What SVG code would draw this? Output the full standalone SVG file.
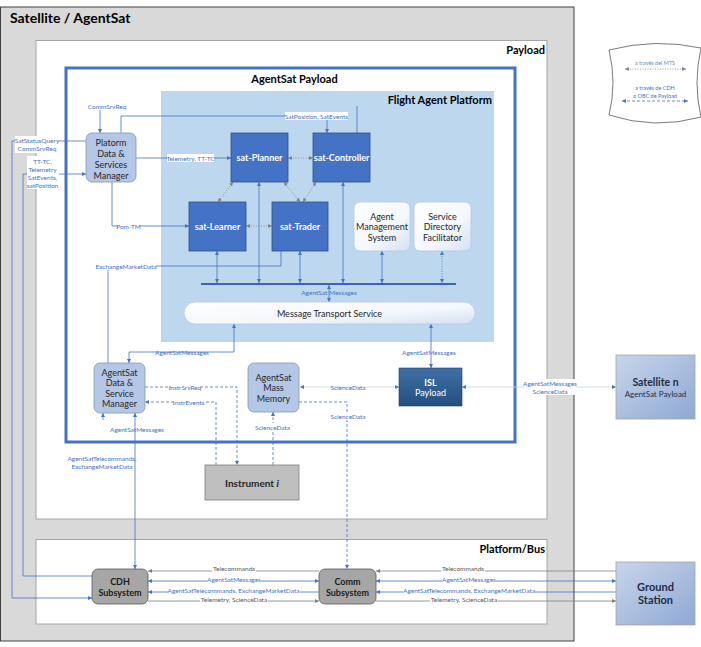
<svg xmlns="http://www.w3.org/2000/svg" width="701" height="647" viewBox="0 0 701 647">
<defs>
<style>
.t{font-family:Lato,"Liberation Sans",sans-serif;dominant-baseline:central;text-anchor:middle}
.ttl{font-weight:bold;fill:#000}
.lbl{font-size:6.5px;fill:#4472c4}
.lblg{font-size:6.5px;fill:#595959}
.nd{font-size:9px;fill:#262626}
.ag{font-size:9px;font-weight:bold;fill:#fff}
.bg{fill:#fff}
.cb{fill:none;stroke:#4472c4;stroke-width:0.8}
.cg{fill:none;stroke:#808080;stroke-width:0.8}
.cf{fill:none;stroke:#c9d5ea;stroke-width:0.8}
.dsh{stroke-dasharray:3 2}
.dot{stroke-dasharray:1 1.5}
.agent{fill:#4472c4;stroke:#2f528f;stroke-width:0.8}
.lblue{fill:#b4c7e7;stroke:#8497b0;stroke-width:0.8}
.gray{fill:#a6a6a6;stroke:#595959;stroke-width:0.8}
</style>
<marker id="ab" viewBox="0 0 6 6" refX="6" refY="3" markerWidth="4" markerHeight="4" orient="auto-start-reverse" markerUnits="userSpaceOnUse"><path d="M0,0 L6,3 L0,6 z" fill="#4472c4"/></marker>
<marker id="ag" viewBox="0 0 6 6" refX="6" refY="3" markerWidth="4" markerHeight="4" orient="auto-start-reverse" markerUnits="userSpaceOnUse"><path d="M0,0 L6,3 L0,6 z" fill="#808080"/></marker>
<linearGradient id="gw" x1="0" y1="0" x2="1" y2="1"><stop offset="0" stop-color="#ffffff"/><stop offset="0.6" stop-color="#f4f7fc"/><stop offset="1" stop-color="#d5e0f1"/></linearGradient>
<linearGradient id="gisl" x1="0" y1="0" x2="0" y2="1"><stop offset="0" stop-color="#3f70a6"/><stop offset="1" stop-color="#234f7d"/></linearGradient>
<linearGradient id="gext" x1="0" y1="0" x2="1" y2="1"><stop offset="0" stop-color="#c7d5ea"/><stop offset="1" stop-color="#8fa9d4"/></linearGradient>
</defs>

<!-- containers -->
<g id="satellite">
<rect x="0.5" y="7" width="573.5" height="634" fill="#d9d9d9" stroke="#404040" stroke-width="1"/>
<text class="t ttl" x="10" y="17" style="font-size:14px;text-anchor:start">Satellite / AgentSat</text>
</g>
<g id="payload">
<rect x="36" y="40.5" width="511" height="478.5" fill="#fff" stroke="#a6a6a6" stroke-width="1"/>
<text class="t ttl" x="545" y="49" style="font-size:11px;text-anchor:end">Payload</text>
</g>
<g id="agentsat-payload">
<rect x="66" y="68" width="449" height="374" fill="#fff" stroke="#4472c4" stroke-width="3"/>
<text class="t ttl" x="294.5" y="78" style="font-size:11px">AgentSat Payload</text>
</g>
<g id="flight-agent-platform">
<rect x="161" y="91" width="333" height="251" fill="#bdd7ee"/>
<text class="t ttl" x="492" y="99.5" style="font-size:11px;text-anchor:end">Flight Agent Platform</text>
</g>
<g id="platform-bus">
<rect x="36" y="539.5" width="511" height="84.5" fill="#fff" stroke="#a6a6a6" stroke-width="1"/>
<text class="t ttl" x="545" y="548" style="font-size:11px;text-anchor:end">Platform/Bus</text>
</g>

<!-- connectors -->
<g id="connectors">
<path class="cb" d="M100,110 V133" marker-end="url(#ab)"/>
<path class="cb" d="M121,133 V116 H327 V133" marker-end="url(#ab)"/>
<path class="cb" d="M357,106 V133"/>
<path class="cb" d="M136,158 H231" marker-end="url(#ab)"/>
<path class="cb" d="M112,182 V226 H189" marker-end="url(#ab)"/>
<path class="cb" d="M108,363 V266 H281 V251"/>
<path d="M201,284 H456" fill="none" stroke="#3c64b0" stroke-width="2"/>
<path class="cb" d="M217,251 V283" marker-start="url(#ab)" marker-end="url(#ab)"/>
<path class="cb" d="M259,182 V283" marker-start="url(#ab)" marker-end="url(#ab)"/>
<path class="cb" d="M300,251 V283" marker-start="url(#ab)" marker-end="url(#ab)"/>
<path class="cb" d="M343,182 V283" marker-start="url(#ab)" marker-end="url(#ab)"/>
<path class="cb" d="M382,251 V283" marker-start="url(#ab)" marker-end="url(#ab)"/>
<path class="cb dot" d="M442,251 V283" marker-start="url(#ab)" marker-end="url(#ab)"/>
<path class="cb" d="M329,285 V302" marker-start="url(#ab)" marker-end="url(#ab)"/>
<path class="cb" d="M129,363 V352 H234 V324" marker-start="url(#ab)" marker-end="url(#ab)"/>
<path class="cb" d="M431,368 V324" marker-start="url(#ab)" marker-end="url(#ab)"/>
<path class="cb" d="M135,413 V569" marker-start="url(#ab)" marker-end="url(#ab)"/>
<path class="cb" d="M103,420 V413" marker-end="url(#ab)"/>
<path class="cb" d="M86,141 H12 V598 H92" marker-end="url(#ab)"/>
<path class="cb" d="M92,576 H23 V174 H86" marker-end="url(#ab)"/>
<!-- dotted agent links -->
<path class="cg dot" d="M288,158 H313" marker-start="url(#ag)" marker-end="url(#ag)"/>
<path class="cg dot" d="M246,226 H272" marker-start="url(#ag)" marker-end="url(#ag)"/>
<path class="cg dot" d="M233,182 L218,202" marker-start="url(#ag)" marker-end="url(#ag)"/>
<path class="cg dot" d="M284,182 L300,202" marker-start="url(#ag)" marker-end="url(#ag)"/>
<path class="cg dot" d="M316,182 L303,202" marker-start="url(#ag)" marker-end="url(#ag)"/>
<!-- dashed -->
<path class="cb dsh" d="M145,387 H237 V465" marker-end="url(#ab)"/>
<path class="cb dsh" d="M216,465 V402 H145" marker-end="url(#ab)"/>
<path class="cb dsh" d="M273,465 V412" marker-end="url(#ab)"/>
<path class="cb dsh" d="M299,402 H347 V569" marker-end="url(#ab)"/>
<path class="cf" d="M300,387 H399" marker-start="url(#ab)" marker-end="url(#ab)"/>
<path class="cf" d="M462,387 H616" marker-start="url(#ab)" marker-end="url(#ab)"/>
<!-- platform bus -->
<path class="cg" d="M319,571 H148" marker-end="url(#ag)"/>
<path class="cb" d="M148,581 H319" marker-start="url(#ab)" marker-end="url(#ab)"/>
<path class="cb" d="M319,592 H148" marker-end="url(#ab)"/>
<path class="cg" d="M148,601 H319" marker-end="url(#ag)"/>
<path class="cg" d="M616,571 H376" marker-end="url(#ag)"/>
<path class="cb" d="M376,581 H616" marker-start="url(#ab)" marker-end="url(#ab)"/>
<path class="cb" d="M616,592 H376" marker-end="url(#ab)"/>
<path class="cg" d="M376,601 H616" marker-end="url(#ag)"/>

<!-- labels -->
<text class="t lbl" x="107" y="106">CommSrvReq</text>
<rect class="bg" x="285" y="112" width="63" height="8"/>
<text class="t lbl" x="316.5" y="116">SatPosition, SatEvents</text>
<rect class="bg" x="167" y="154" width="47" height="8"/>
<text class="t lbl" x="190.5" y="158">Telemetry, TT-TC</text>
<rect class="bg" x="118" y="222" width="21" height="8"/>
<text class="t lbl" x="128.5" y="226">Pom-TM</text>
<rect class="bg" x="96" y="262" width="60" height="8"/>
<text class="t lbl" x="126" y="266">ExchangeMarketData</text>
<text class="t lbl" x="329" y="292">AgentSat Messages</text>
<text class="t lbl" x="182" y="352">AgentSatMessages</text>
<text class="t lbl" x="429" y="352">AgentSatMessages</text>
<rect class="bg" x="171" y="383" width="28" height="8"/>
<text class="t lbl" x="185" y="387">InstrSrvReq</text>
<rect class="bg" x="173" y="398" width="31" height="8"/>
<text class="t lbl" x="188.5" y="402">InstrEvents</text>
<text class="t lbl" x="348" y="387">ScienceData</text>
<rect class="bg" x="330" y="412" width="36" height="8"/>
<text class="t lbl" x="348" y="416">ScienceData</text>
<rect class="bg" x="254" y="423" width="37" height="8"/>
<text class="t lbl" x="272.5" y="427">ScienceData</text>
<text class="t lbl" x="137" y="429">AgentSatMessages</text>
<text class="t lbl" x="102" y="458">AgentSatTelecommands,</text>
<text class="t lbl" x="102" y="466">ExchangeMarketData</text>
<rect class="bg" x="524" y="379" width="52" height="16"/>
<text class="t lbl" x="550" y="383.5">AgentSatMessages</text>
<text class="t lbl" x="550" y="391">ScienceData</text>
<rect class="bg" x="15" y="136" width="44" height="17"/>
<text class="t lbl" x="37" y="140.5">SatStatusQuery</text>
<text class="t lbl" x="37" y="148.5">CommSrvReq</text>
<rect class="bg" x="27" y="156" width="32" height="33"/>
<text class="t lbl" x="42.5" y="161">TT-TC,</text>
<text class="t lbl" x="42.5" y="169">Telemetry</text>
<text class="t lbl" x="42.5" y="177">SatEvents,</text>
<text class="t lbl" x="42.5" y="185">satPosition</text>
<rect class="bg" x="212" y="565" width="44" height="7"/>
<text class="t lblg" x="234" y="568.5">Telecommands</text>
<rect class="bg" x="207" y="576" width="54" height="7"/>
<text class="t lbl" x="234" y="579">AgentSatMessages</text>
<rect class="bg" x="168" y="587" width="132" height="7"/>
<text class="t lbl" x="233.5" y="590">AgentSatTelecommands, ExchangeMarketData</text>
<rect class="bg" x="200" y="596" width="68" height="7"/>
<text class="t lblg" x="234" y="599">Telemetry, ScienceData</text>
<rect class="bg" x="441" y="565" width="44" height="7"/>
<text class="t lblg" x="463" y="568.5">Telecommands</text>
<rect class="bg" x="442" y="576" width="54" height="7"/>
<text class="t lbl" x="469" y="579">AgentSatMessages</text>
<rect class="bg" x="403" y="587" width="132" height="7"/>
<text class="t lbl" x="469" y="590">AgentSatTelecommands, ExchangeMarketData</text>
<rect class="bg" x="430" y="596" width="68" height="7"/>
<text class="t lblg" x="464" y="599">Telemetry, ScienceData</text>
</g>

<!-- nodes -->
<g id="pdsm">
<rect class="lblue" x="86" y="133" width="50" height="49" rx="6"/>
<text class="t nd" x="111" y="142">Platorm</text>
<text class="t nd" x="111" y="153">Data &amp;</text>
<text class="t nd" x="111" y="164">Services</text>
<text class="t nd" x="111" y="175">Manager</text>
</g>
<g id="sat-planner">
<rect class="agent" x="231" y="133" width="57" height="49"/>
<text class="t ag" x="259.5" y="157.5">sat-Planner</text>
</g>
<g id="sat-controller">
<rect class="agent" x="313" y="133" width="57" height="49"/>
<text class="t ag" x="341.5" y="157.5">sat-Controller</text>
</g>
<g id="sat-learner">
<rect class="agent" x="189" y="202" width="57" height="49"/>
<text class="t ag" x="217.5" y="226.5">sat-Learner</text>
</g>
<g id="sat-trader">
<rect class="agent" x="272" y="202" width="56" height="49"/>
<text class="t ag" x="300" y="226.5">sat-Trader</text>
</g>
<g id="ams">
<rect x="354" y="202" width="56" height="49" rx="6" fill="url(#gw)" stroke="#b4c7e7" stroke-width="0.8"/>
<text class="t nd" x="382" y="216">Agent</text>
<text class="t nd" x="382" y="226.5">Management</text>
<text class="t nd" x="382" y="237">System</text>
</g>
<g id="sdf">
<rect x="414" y="202" width="57" height="49" rx="6" fill="url(#gw)" stroke="#b4c7e7" stroke-width="0.8"/>
<text class="t nd" x="442.5" y="216">Service</text>
<text class="t nd" x="442.5" y="226.5">Directory</text>
<text class="t nd" x="442.5" y="237">Facilitator</text>
</g>
<g id="mts">
<rect x="184" y="302" width="291" height="22" rx="11" fill="url(#gw)" stroke="#b4c7e7" stroke-width="0.8"/>
<text class="t nd" x="329.5" y="313">Message Transport Service</text>
</g>
<g id="asdsm">
<rect class="lblue" x="94" y="363" width="51" height="50" rx="6"/>
<text class="t nd" x="119.5" y="372">AgentSat</text>
<text class="t nd" x="119.5" y="382.5">Data &amp;</text>
<text class="t nd" x="119.5" y="393">Service</text>
<text class="t nd" x="119.5" y="403.5">Manager</text>
</g>
<g id="mass-memory">
<rect class="lblue" x="248" y="363" width="51" height="49" rx="6"/>
<text class="t nd" x="273.5" y="377">AgentSat</text>
<text class="t nd" x="273.5" y="387.5">Mass</text>
<text class="t nd" x="273.5" y="398">Memory</text>
</g>
<g id="isl-payload">
<rect x="399" y="368" width="63" height="38" fill="url(#gisl)" stroke="#1f3f66" stroke-width="0.6"/>
<text class="t" x="430.5" y="382" style="font-size:9px;font-weight:bold;fill:#fff">ISL</text>
<text class="t" x="430.5" y="392.5" style="font-size:9px;fill:#fff">Payload</text>
</g>
<g id="instrument">
<rect x="205" y="465" width="94" height="35" fill="#bfbfbf" stroke="#7f7f7f" stroke-width="0.8"/>
<text class="t" x="252" y="482.5" style="font-size:10px;font-weight:bold;fill:#262626">Instrument <tspan font-style="italic">i</tspan></text>
</g>
<g id="cdh">
<rect class="gray" x="92" y="569" width="56" height="35" rx="6"/>
<text class="t" x="120" y="581.5" style="font-size:9px;font-weight:bold;fill:#1a1a1a">CDH</text>
<text class="t" x="120" y="592" style="font-size:9px;font-weight:bold;fill:#1a1a1a">Subsystem</text>
</g>
<g id="comm">
<rect class="gray" x="319" y="569" width="57" height="35" rx="6"/>
<text class="t" x="347.5" y="581.5" style="font-size:9px;font-weight:bold;fill:#1a1a1a">Comm</text>
<text class="t" x="347.5" y="592" style="font-size:9px;font-weight:bold;fill:#1a1a1a">Subsystem</text>
</g>
<g id="satellite-n">
<rect x="616" y="355" width="79" height="64" fill="url(#gext)" stroke="#a6a6a6" stroke-width="0.8"/>
<text class="t" x="655.5" y="382" style="font-size:10.5px;font-weight:bold;fill:#1f2d44">Satellite n</text>
<text class="t" x="655.5" y="393.5" style="font-size:8px;fill:#1f2d44">AgentSat Payload</text>
</g>
<g id="ground-station">
<rect x="616" y="562" width="79" height="63" fill="url(#gext)" stroke="#a6a6a6" stroke-width="0.8"/>
<text class="t" x="655.5" y="586" style="font-size:11px;font-weight:bold;fill:#1f2d44">Ground</text>
<text class="t" x="655.5" y="599.5" style="font-size:11px;font-weight:bold;fill:#1f2d44">Station</text>
</g>
<g id="legend">
<path d="M609,50 Q655,38 701,48 Q693,83 701,117 Q655,130 609,115 Q617,83 609,50 Z" fill="#fff" stroke="#595959" stroke-width="0.8"/>
<text class="t" x="655" y="63" style="font-size:5.5px;fill:#6f87b8">a través del MTS</text>
<path class="cg dot" d="M625,69 H686" marker-start="url(#ag)" marker-end="url(#ag)"/>
<text class="t" x="655" y="88" style="font-size:5.5px;fill:#4472c4">a través de CDH</text>
<text class="t" x="655" y="95.5" style="font-size:5.5px;fill:#4472c4">o OBC de Payload</text>
<path class="cb dsh" d="M622,101 H688" marker-start="url(#ab)" marker-end="url(#ab)"/>
</g>
</svg>
